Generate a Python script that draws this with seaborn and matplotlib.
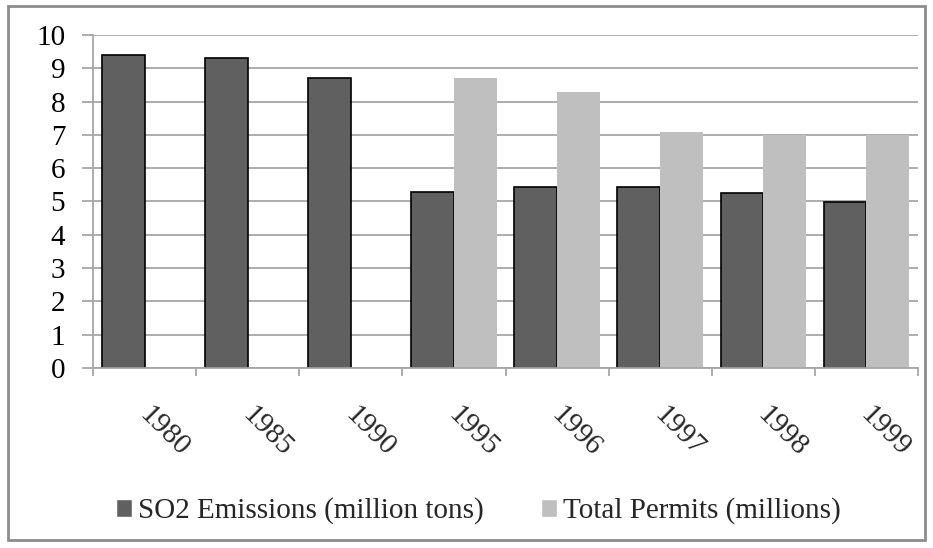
import os
import matplotlib
matplotlib.use("Agg")
import matplotlib.pyplot as plt
import matplotlib.transforms as mtransforms
from matplotlib.patches import Rectangle
from matplotlib import font_manager
import numpy as np
import pandas as pd
import seaborn as sns

years = ["1980", "1985", "1990", "1995", "1996", "1997", "1998", "1999"]
so2_emissions = [9.4, 9.3, 8.7, 5.3, 5.45, 5.45, 5.27, 4.97]
total_permits = [np.nan, np.nan, np.nan, 8.7, 8.3, 7.1, 7.0, 7.0]
series_names = ["SO2 Emissions (million tons)", "Total Permits (millions)"]
y_ticks = [0, 1, 2, 3, 4, 5, 6, 7, 8, 9, 10]

df = pd.DataFrame({
    "year": years * 2,
    "value": so2_emissions + total_permits,
    "series": [series_names[0]] * len(years) + [series_names[1]] * len(years),
})

sns.set_theme(style="white")
plt.rcParams["font.family"] = ["Liberation Serif", "DejaVu Serif"]
FS = 21
SERIF_PATH = "/usr/share/fonts/truetype/liberation/LiberationSerif-Regular.ttf"
if os.path.exists(SERIF_PATH):
    font_manager.fontManager.addfont(SERIF_PATH)
    FP = font_manager.FontProperties(fname=SERIF_PATH, size=FS)
else:
    FP = font_manager.FontProperties(family="Liberation Serif", size=FS)

fig = plt.figure(figsize=(9.33, 5.48), dpi=100)
ax = fig.add_axes([93 / 933, 1 - 368 / 548, (918 - 93) / 933, (368 - 35) / 548])

palette = {series_names[0]: "#606060", series_names[1]: "#bfbfbf"}
sns.barplot(data=df, x="year", y="value", hue="series", order=years,
            hue_order=series_names, palette=palette, width=0.83, gap=0,
            saturation=1, ax=ax, legend=True)

for cont, name in zip(ax.containers, series_names):
    for bar in cont:
        if name == series_names[0]:
            bar.set_edgecolor("black")
            bar.set_linewidth(1.2)
        else:
            bar.set_edgecolor("none")
            bar.set_linewidth(0)

ax.set_ylim(0, 10)
ax.set_xlim(-0.5, len(years) - 0.5)
ax.set_yticks(y_ticks)
ax.set_yticklabels([str(t) for t in y_ticks])
for lab in ax.get_yticklabels():
    lab.set_fontproperties(FP)
ax.yaxis.grid(True, color="#a6a6a6", linewidth=1.3)
ax.set_axisbelow(True)
ax.tick_params(axis="y", which="major", length=8, width=1.3, color="#a6a6a6",
               pad=12, left=True, labelcolor="black")

bounds = np.arange(len(years) + 1) - 0.5
ax.set_xticks(bounds)
ax.set_xticklabels([""] * len(bounds))
ax.set_xticks(np.arange(len(years)), minor=True)
ax.set_xticklabels(years, minor=True, rotation=-45,
                   ha="left", va="baseline", rotation_mode="anchor")
ax.tick_params(axis="x", which="major", length=6, width=1.3, color="#a6a6a6",
               bottom=True, direction="out")
ax.tick_params(axis="x", which="minor", length=0, pad=34.5)
offset = mtransforms.ScaledTranslation(-6.5 / 100, 0, fig.dpi_scale_trans)
for lab in ax.get_xticklabels(minor=True):
    lab.set_fontproperties(FP)
    lab.set_transform(lab.get_transform() + offset)

for side in ["top", "right"]:
    ax.spines[side].set_visible(False)
for side in ["left", "bottom"]:
    ax.spines[side].set_color("#a6a6a6")
    ax.spines[side].set_linewidth(1.3)

ax.set_xlabel("")
ax.set_ylabel("")

handles, labels = ax.get_legend_handles_labels()
ax.legend_.remove()
fig.legend(handles, labels, loc="center", bbox_to_anchor=(478 / 933, 1 - 511 / 548),
           ncol=2, frameon=False, prop=FP,
           handlelength=0.55, handleheight=0.55, handletextpad=0.2,
           columnspacing=1.97)

fig.patches.append(Rectangle((8 / 933, 1 - 540 / 548), (925 - 8) / 933,
                             (540 - 6) / 548, transform=fig.transFigure,
                             fill=False, edgecolor="#8c8c8c", linewidth=2))

fig.savefig("out.png", dpi=100)
